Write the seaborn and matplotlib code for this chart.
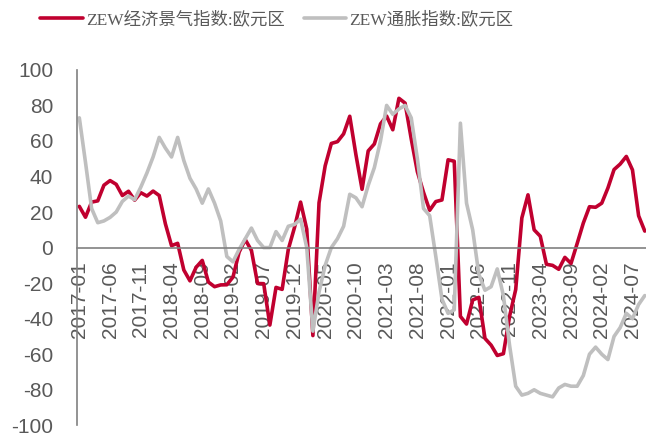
import numpy as np
import pandas as pd
import matplotlib
matplotlib.use("Agg")
import matplotlib.pyplot as plt
import seaborn as sns

# monthly data, 2017-01 .. 2024-09
months = pd.period_range("2017-01", "2024-09", freq="M").strftime("%Y-%m").tolist()

sentiment = [
    23.2, 17.1, 25.6, 26.3, 35.1, 37.7, 35.6, 29.3, 31.7, 26.7, 30.9, 29.0,
    31.8, 29.3, 13.4, 1.1, 2.4, -12.6, -18.7, -11.1, -7.2, -19.4, -22.0, -21.0,
    -20.9, -16.6, -2.5, 4.5, -1.6, -20.2, -20.3, -43.6, -22.4, -23.5, -1.0, 11.2,
    25.6, 10.4, -49.5, 25.2, 46.0, 58.6, 59.6, 64.0, 73.9, 52.3, 32.8, 54.4,
    58.3, 69.6, 74.0, 66.3, 84.0, 81.3, 61.2, 42.7, 31.1, 21.0, 25.9, 26.8,
    49.4, 48.6, -38.7, -43.0, -29.5, -28.0, -51.1, -54.9, -60.7, -59.7, -38.7, -23.6,
    16.7, 29.7, 10.0, 6.4, -9.4, -10.0, -12.2, -5.5, -8.9, 2.3, 13.8, 23.0,
    22.7, 25.0, 33.5, 43.9, 47.0, 51.3, 43.7, 17.9, 9.3,
]

inflation = [
    73, 48, 22, 14, 15, 17, 20, 26, 29, 27, 34, 42,
    51, 62, 56, 51, 62, 49, 39, 33, 25, 33, 25, 15,
    -5, -8, -1, 5, 11, 4, 0, 0, 9, 4, 12, 13,
    16, 0, -47, -25, -10, 0, 5, 12, 30, 28, 23, 35,
    45, 60, 80, 75, 78, 80, 73, 50, 22, 18, -5, -29,
    -37, -35, 70, 25, 10, -15, -24, -22, -12, -27, -55, -78,
    -83, -82, -80, -82, -83, -84, -79, -77, -78, -78, -72, -60,
    -56, -60, -63, -50, -45, -37, -40, -32, -27,
]

names = ["ZEW经济景气指数:欧元区", "ZEW通胀指数:欧元区"]
colors = ["#C0002F", "#BFBFBF"]

df = pd.DataFrame({"idx": np.arange(len(months)),
                   names[0]: sentiment, names[1]: inflation})
long = df.melt(id_vars="idx", var_name="series", value_name="value")

sns.set_style("white")
plt.rcParams["font.family"] = ["Liberation Sans", "DejaVu Sans"]
plt.rcParams["axes.unicode_minus"] = False

fig = plt.figure(figsize=(6.46, 4.34), dpi=100)
ax = fig.add_axes([0.119, 0.02, 0.881, 0.819])

sns.lineplot(data=long, x="idx", y="value", hue="series", hue_order=names,
             palette=colors, linewidth=2.6, ax=ax, legend=False)

ax.set_xlim(-0.4, 92.2)
ax.set_ylim(-100, 100)
ax.set_yticks(np.arange(-100, 101, 20))
tick_pos = np.arange(0, len(months), 5)
ax.set_xticks(tick_pos)
ax.set_xticklabels([months[i] for i in tick_pos])
ax.set_xlabel("")
ax.set_ylabel("")

for s in ["top", "right"]:
    ax.spines[s].set_visible(False)
ax.spines["bottom"].set_position(("data", 0))
for s in ["left", "bottom"]:
    ax.spines[s].set_color("#808080")
    ax.spines[s].set_linewidth(1.2)

ax.tick_params(axis="y", direction="out", length=4, width=1.2, color="#808080",
               pad=13, labelsize=15, labelcolor="#595959")
ax.tick_params(axis="x", direction="out", length=4, width=1.2, color="#808080",
               pad=6, labelsize=15, labelcolor="#595959", labelrotation=90)

handles = [plt.Line2D([], [], color=c, linewidth=2.6) for c in colors]
fig.legend(handles, names, loc="center left", bbox_to_anchor=(0.062, 0.955),
           ncol=2, frameon=False, borderpad=0, borderaxespad=0,
           handlelength=2.45, handletextpad=0.18, columnspacing=1.1,
           prop={"family": ["Liberation Serif", "Noto Sans CJK SC"], "size": 12.5},
           labelcolor="#595959")

fig.savefig("out.png", dpi=100)
